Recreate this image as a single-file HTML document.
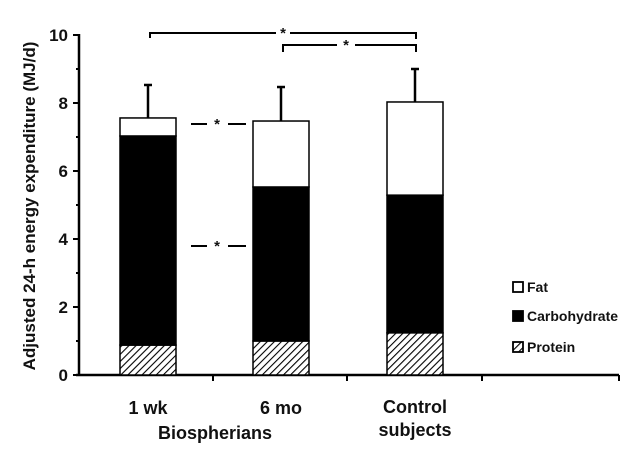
<!DOCTYPE html>
<html><head><meta charset="utf-8"><style>
body{margin:0;background:#fff;}
text{font-family:"Liberation Sans",Arial,sans-serif;font-weight:bold;fill:#111;}
</style></head><body>
<svg id="chart" width="634" height="451" viewBox="0 0 634 451" xmlns="http://www.w3.org/2000/svg">
<defs><pattern id="hatch" patternUnits="userSpaceOnUse" width="5" height="5" patternTransform="rotate(45)"><rect width="5" height="5" fill="#fff"/><line x1="0" y1="0" x2="0" y2="5" stroke="#000" stroke-width="2.2"/></pattern></defs>
<g id="axes"></g><g id="bars"></g><g id="annot"></g><g id="legend"></g>
</svg>
<script>
const categories=["1 wk","6 mo","Control"];
const protein=[0.88,1.0,1.24];
const carbohydrate=[6.15,4.53,4.05];
const fat=[0.53,1.94,2.74];
const errorTop=[8.53,8.47,9.0];
const yTicks=[0,2,4,6,8,10];
const NS="http://www.w3.org/2000/svg";
const x0=79,y0=375,pxPer=34;
const barX=[120,253,387],barW=56;
function y(v){return y0-v*pxPer;}
function el(t,a,p){const e=document.createElementNS(NS,t);for(const k in a)e.setAttribute(k,a[k]);document.getElementById(p).appendChild(e);return e;}
let e=el('line',{x1:x0,y1:y(10)-1,x2:x0,y2:y0+1,stroke:'#000','stroke-width':2.5},'axes');

e=el('line',{x1:x0-3,y1:y0,x2:619,y2:y0,stroke:'#000','stroke-width':2.5},'axes');

for(let v=0;v<=10;v++){el('line',{x1:x0-(v%2?3:6),y1:y(v),x2:x0,y2:y(v),stroke:'#000','stroke-width':2},'axes');}
yTicks.forEach(v=>{const t=el('text',{x:x0-11,y:y(v)+6,'text-anchor':'end','font-size':17},'axes');t.textContent=v;
});
[213,347,482,619].forEach(xx=>el('line',{x1:xx,y1:y0,x2:xx,y2:y0+6,stroke:'#000','stroke-width':2},'axes'));
e=el('text',{x:0,y:0,'text-anchor':'middle','font-size':17,transform:'translate(35,206) rotate(-90)'},'axes');
e.textContent='Adjusted 24-h energy expenditure (MJ/d)';
[["1 wk",148,414],["6 mo",281,414],["Control",415,413],["subjects",415,436],["Biospherians",215,439]].forEach(a=>{const t=el('text',{x:a[1],y:a[2],'text-anchor':'middle','font-size':18},'axes');t.textContent=a[0];
});
categories.forEach((c,i)=>{
 const bx=barX[i];let base=0;
 [[protein[i],'url(#hatch)','protein'],[carbohydrate[i],'#000','carbohydrate'],[fat[i],'#fff','fat']].forEach(s=>{
  const r=el('rect',{x:bx,y:y(base+s[0]),width:barW,height:s[0]*pxPer,fill:s[1],stroke:'#000','stroke-width':1.5},'bars');
  base+=s[0];});
 const tot=base,cx=bx+barW/2;
 const l=el('line',{x1:cx,y1:y(tot),x2:cx,y2:y(errorTop[i]),stroke:'#000','stroke-width':2.5},'bars');
 
 el('line',{x1:cx-4,y1:y(errorTop[i]),x2:cx+4,y2:y(errorTop[i]),stroke:'#000','stroke-width':2.5},'bars');
});
function star(x,yy){const t=el('text',{x:x,y:yy+8,'text-anchor':'middle','font-size':15},'annot');t.textContent='*';}
el('path',{d:'M150,38 V33 H276 M290,33 H416 V39',fill:'none',stroke:'#000','stroke-width':2},'annot');star(283,30);
el('path',{d:'M283,52 V45 H337 M355,45 H416 V52',fill:'none',stroke:'#000','stroke-width':2},'annot');star(346,42);
el('path',{d:'M191,124 H207 M228,124 H246',fill:'none',stroke:'#000','stroke-width':2},'annot');star(217,121);
el('path',{d:'M191,246 H207 M228,246 H246',fill:'none',stroke:'#000','stroke-width':2},'annot');star(217,243);
[["Fat","#fff",287],["Carbohydrate","#000",316],["Protein","url(#hatch)",347]].forEach(a=>{
 const r=el('rect',{x:513,y:a[2]-5,width:10,height:10,fill:a[1],stroke:'#000','stroke-width':1.8},'legend');
 
 const t=el('text',{x:527,y:a[2]+5,'font-size':14},'legend');t.textContent=a[0];
 });
</script>
</body></html>
